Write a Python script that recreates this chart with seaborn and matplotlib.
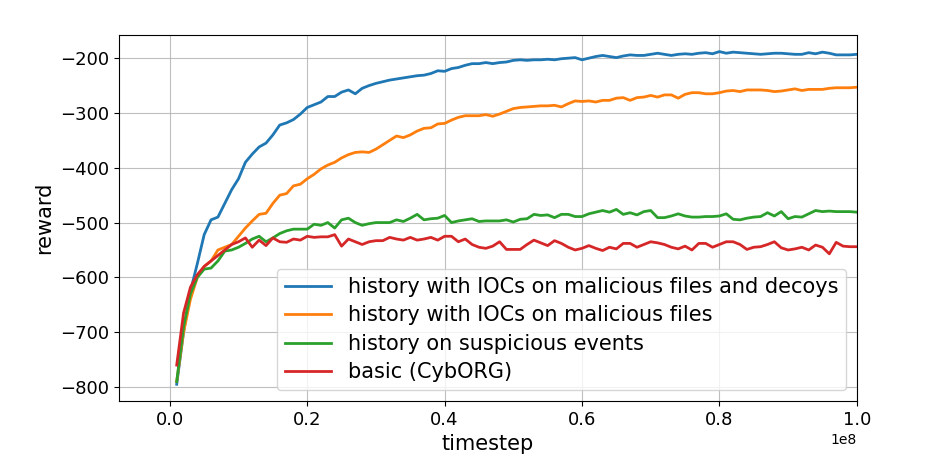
import matplotlib
matplotlib.use("Agg")
import matplotlib.pyplot as plt
import seaborn as sns
import pandas as pd
import numpy as np

# timesteps 1e6 .. 1e8
timesteps = [i * 1_000_000 for i in range(1, 101)]

decoys = [
    -795, -700, -625, -575, -522, -495, -490, -465, -440, -420,
    -390, -375, -362, -355, -340, -322, -318, -312, -302, -290,
    -285, -280, -270, -270, -262, -258, -265, -255, -250, -246,
    -243, -240, -238, -236, -234, -232, -231, -228, -223, -224,
    -219, -217, -213, -210, -210, -208, -210, -208, -207, -204,
    -203, -204, -203, -203, -202, -203, -201, -200, -199, -203,
    -200, -197, -195, -197, -199, -196, -194, -195, -195, -193,
    -191, -193, -195, -193, -192, -193, -191, -190, -192, -188,
    -191, -189, -190, -191, -192, -193, -192, -191, -191, -192,
    -193, -193, -190, -192, -189, -191, -194, -194, -194, -193,
]
malicious = [
    -790, -700, -640, -600, -580, -570, -550, -545, -540, -525,
    -510, -497, -485, -483, -465, -450, -447, -433, -430, -420,
    -412, -402, -395, -390, -382, -376, -372, -371, -372, -366,
    -358, -350, -342, -345, -340, -333, -328, -327, -320, -319,
    -313, -308, -305, -305, -305, -303, -306, -302, -297, -292,
    -290, -289, -288, -287, -287, -286, -289, -283, -278, -279,
    -278, -280, -277, -277, -273, -272, -277, -272, -271, -268,
    -271, -267, -267, -273, -266, -263, -263, -265, -265, -263,
    -260, -259, -261, -258, -258, -258, -259, -261, -260, -258,
    -256, -259, -257, -257, -257, -255, -254, -254, -254, -253,
]
suspicious = [
    -790, -690, -630, -600, -585, -583, -570, -552, -550, -545,
    -538, -530, -525, -535, -528, -520, -515, -512, -512, -512,
    -503, -505, -500, -510, -495, -492, -500, -505, -502, -500,
    -500, -500, -495, -498, -492, -485, -495, -493, -492, -487,
    -500, -497, -495, -493, -498, -497, -497, -497, -495, -499,
    -494, -493, -485, -487, -486, -491, -485, -485, -489, -489,
    -484, -481, -478, -481, -476, -485, -482, -486, -480, -478,
    -491, -491, -488, -484, -488, -490, -490, -489, -489, -488,
    -484, -494, -495, -492, -490, -489, -482, -488, -480, -493,
    -489, -490, -484, -478, -480, -479, -480, -480, -480, -481,
]
basic = [
    -760, -665, -618, -595, -580, -570, -560, -550, -540, -535,
    -528, -545, -532, -542, -528, -535, -536, -530, -532, -525,
    -527, -526, -526, -522, -543, -530, -535, -540, -535, -533,
    -533, -527, -530, -532, -527, -532, -530, -527, -532, -525,
    -525, -535, -530, -540, -545, -547, -543, -535, -549, -549,
    -549, -540, -532, -537, -542, -533, -538, -545, -550, -547,
    -542, -547, -551, -545, -548, -538, -538, -545, -540, -535,
    -537, -540, -545, -548, -543, -550, -538, -538, -545, -540,
    -535, -535, -540, -549, -545, -544, -540, -535, -546, -550,
    -548, -545, -550, -541, -545, -557, -536, -543, -544, -544,
]

labels = [
    "history with IOCs on malicious files and decoys",
    "history with IOCs on malicious files",
    "history on suspicious events",
    "basic (CybORG)",
]

df_plot = pd.concat([
    pd.DataFrame({"timestep": timesteps, "reward": vals, "agent": lab})
    for vals, lab in zip([decoys, malicious, suspicious, basic], labels)
])

fig, ax = plt.subplots(figsize=(9.52, 4.54), dpi=100)
sns.lineplot(
    data=df_plot,
    x="timestep",
    y="reward",
    hue="agent",
    hue_order=labels,
    palette=["#1f77b4", "#ff7f0e", "#2ca02c", "#d62728"],
    linewidth=2,
    ax=ax,
)
ax.grid(True, color="#b0b0b0", linewidth=0.8, alpha=0.8)
ax.set_xlim(-0.074e8, 1.0e8)
ax.set_xlabel("timestep", fontsize=15)
ax.set_ylabel("reward", fontsize=15)
ax.tick_params(labelsize=13)
ax.xaxis.get_offset_text().set_fontsize(10)
ax.legend(title=None, loc="lower right", fontsize=15, labelspacing=0.4, handlelength=2.2)
plt.subplots_adjust(left=0.125, right=0.9, top=0.923, bottom=0.117)
plt.savefig("out.png", dpi=100)
